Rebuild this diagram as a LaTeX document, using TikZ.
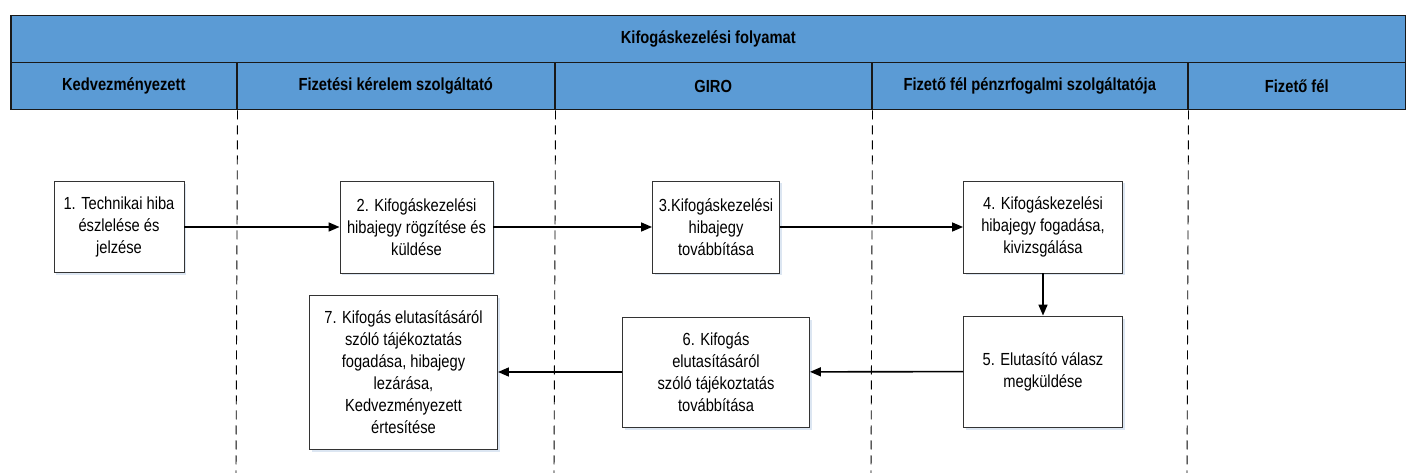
\documentclass[tikz,border=0pt]{standalone}
\usepackage{fontspec}
\setmainfont{Liberation Sans}[FakeStretch=0.84]
\usetikzlibrary{arrows.meta,shadows}
\definecolor{hdrblue}{HTML}{5B9BD5}
\definecolor{shblue}{HTML}{DCE6F2}
\begin{document}
\begin{tikzpicture}[x=1pt,y=1pt,
  hdr/.style={draw=black!90,line width=1.5pt,fill=hdrblue,inner sep=0pt,font=\fontsize{17.5}{20}\selectfont\bfseries},
  stepbox/.style={draw=black!80,line width=0.9pt,fill=white,align=center,inner sep=2pt,
     font=\fontsize{17.5}{22}\selectfont,
     drop shadow={shadow xshift=2pt,shadow yshift=-2.5pt,fill=shblue,opacity=1}},
  flow/.style={line width=1.6pt,-{Triangle[length=11pt,width=9pt]}},
  lane/.style={black,line width=0.9pt,dash pattern=on 9pt off 6pt}]
\useasboundingbox (0,0) rectangle (1406,-473);
% header
\node[hdr,minimum width=1395pt,minimum height=47pt,anchor=north west] (title) at (10,-15) {Kifogáskezelési folyamat};
\node[hdr,minimum width=226pt,minimum height=47pt,anchor=north west] (l1) at (10,-62) {Kedvezményezett};
\node[hdr,minimum width=318pt,minimum height=47pt,anchor=north west] (l2) at (236,-62) {Fizetési kérelem szolgáltató};
\node[hdr,minimum width=317pt,minimum height=47pt,anchor=north west] (l3) at (554,-62) {GIRO};
\node[hdr,minimum width=316pt,minimum height=47pt,anchor=north west] (l4) at (871,-62) {Fizető fél pénzrfogalmi szolgáltatója};
\node[hdr,minimum width=218pt,minimum height=47pt,anchor=north west] (l5) at (1187,-62) {Fizető fél};
% lane separators
\coordinate (e1) at (236,-473);
\coordinate (e2) at (554,-473);
\coordinate (e3) at (871,-473);
\coordinate (e4) at (1187,-473);
\draw[lane] (l1.south east) -- (e1);
\draw[lane] (l2.south east) -- (e2);
\draw[lane] (l3.south east) -- (e3);
\draw[lane] (l4.south east) -- (e4);
% boxes
\node[stepbox,minimum width=130pt,minimum height=91pt] (b1) at (119,-227) {1. Technikai hiba\\észlelése és\\jelzése};
\node[stepbox,minimum width=153pt,minimum height=92pt] (b2) at (416.5,-227) {2. Kifogáskezelési\\hibajegy rögzítése és\\küldése};
\node[stepbox,minimum width=127pt,minimum height=92pt] (b3) at (716,-227) {3.Kifogáskezelési\\hibajegy\\továbbítása};
\node[stepbox,minimum width=159pt,minimum height=92pt] (b4) at (1043,-227) {4. Kifogáskezelési\\hibajegy fogadása,\\kivizsgálása};
\node[stepbox,minimum width=159pt,minimum height=111pt] (b5) at (1043,-371.5) {5. Elutasító válasz\\megküldése};
\node[stepbox,minimum width=187pt,minimum height=110pt] (b6) at (716,-372) {6. Kifogás\\elutasításáról\\szóló tájékoztatás\\továbbítása};
\node[stepbox,minimum width=188pt,minimum height=154pt] (b7) at (403.5,-372) {7. Kifogás elutasításáról\\szóló tájékoztatás\\fogadása, hibajegy\\lezárása,\\Kedvezményezett\\értesítése};
% connectors
\draw[flow] (b1) -- (b2);
\draw[flow] (b2) -- (b3);
\draw[flow] (b3) -- (b4);
\draw[flow] (b4) -- (b5);
\draw[flow] (b5) -- (b6);
\draw[flow] (b6) -- (b7);
\end{tikzpicture}
\end{document}
